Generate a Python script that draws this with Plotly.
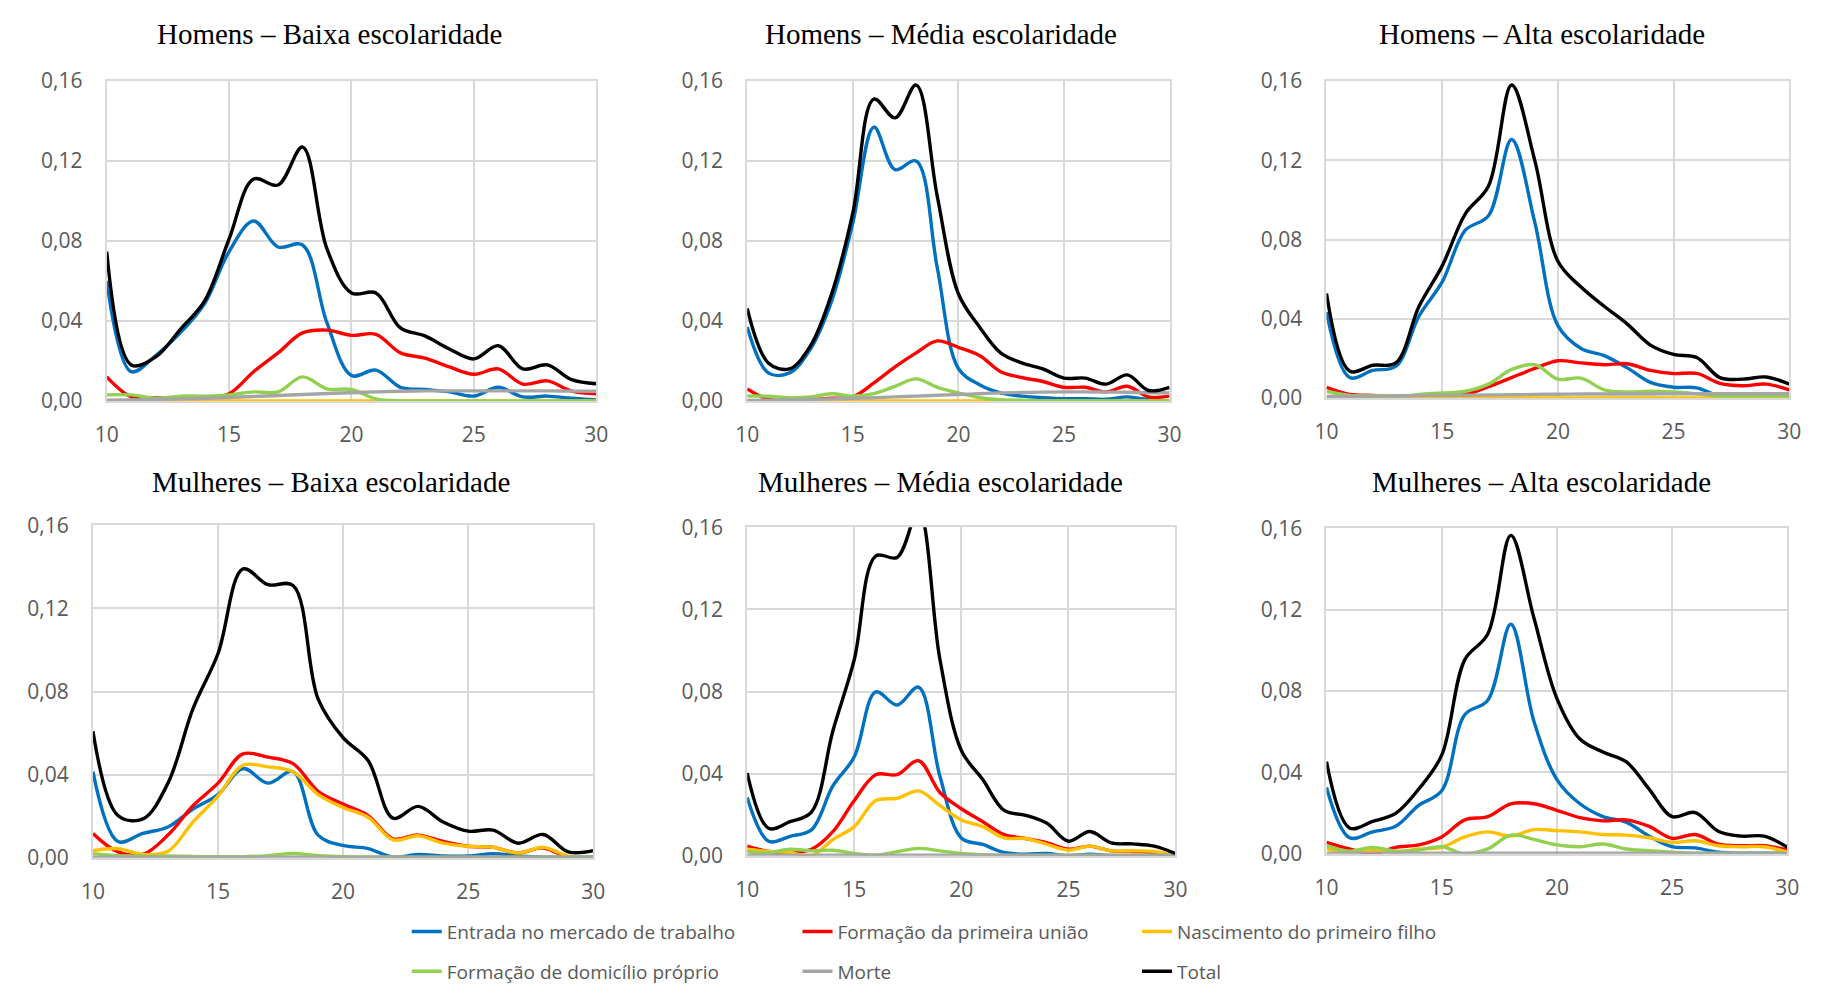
import plotly.graph_objects as go

# ---------------- DATA ----------------
ages = list(range(10, 31))
x_ticks = [10, 15, 20, 25, 30]
y_ticks = [0.0, 0.04, 0.08, 0.12, 0.16]

series_names = [
    "Entrada no mercado de trabalho",
    "Formação da primeira união",
    "Nascimento do primeiro filho",
    "Formação de domicílio próprio",
    "Morte",
    "Total",
]
series_colors = ["#0070C0", "#FF0000", "#FFC000", "#92D050", "#A5A5A5", "#000000"]

panel_titles = [
    "Homens – Baixa escolaridade",
    "Homens – Média escolaridade",
    "Homens – Alta escolaridade",
    "Mulheres – Baixa escolaridade",
    "Mulheres – Média escolaridade",
    "Mulheres – Alta escolaridade",
]

# Homens – Baixa
hb_entrada = [0.060, 0.0146, 0.0227, 0.034, 0.0487, 0.0747, 0.090, 0.077, 0.078, 0.039, 0.0127,
              0.0154, 0.0068, 0.0057, 0.0045, 0.0024, 0.0068, 0.002, 0.0024, 0.0013, 0.0005]
hb_uniao = [0.012, 0.002, 0.0016, 0.001, 0.0016, 0.0036, 0.0146, 0.024, 0.034, 0.0354, 0.0328,
            0.0333, 0.024, 0.0214, 0.017, 0.0133, 0.016, 0.0084, 0.010, 0.0049, 0.0036]
hb_filho = [0.0] * 21
hb_domicilio = [0.003, 0.003, 0.0013, 0.0024, 0.0024, 0.003, 0.0045, 0.0045, 0.012, 0.006, 0.0057,
                0.001, 0.0, 0.0, 0.0, 0.0, 0.0, 0.0, 0.0, 0.0, 0.0]
hb_morte = [0.0003, 0.0005, 0.0008, 0.001, 0.0013, 0.0017, 0.0022, 0.0027, 0.0032, 0.0037, 0.0041,
            0.0045, 0.0048, 0.005, 0.005, 0.005, 0.005, 0.005, 0.005, 0.0049, 0.0048]
hb_total = [0.0747, 0.018, 0.022, 0.0357, 0.050, 0.081, 0.111, 0.108, 0.127, 0.076, 0.054,
            0.054, 0.0365, 0.0325, 0.026, 0.021, 0.0276, 0.016, 0.018, 0.0106, 0.0086]

# Homens – Média
hm_entrada = [0.037, 0.014, 0.014, 0.026, 0.050, 0.089, 0.137, 0.1157, 0.120, 0.0666, 0.0162,
              0.0081, 0.004, 0.0024, 0.0016, 0.0011, 0.0011, 0.0008, 0.002, 0.0006, 0.0]
hm_uniao = [0.006, 0.0008, 0.0003, 0.0006, 0.0013, 0.002, 0.009, 0.017, 0.024, 0.030, 0.0268,
            0.0227, 0.0146, 0.0117, 0.0097, 0.0068, 0.0068, 0.0045, 0.0073, 0.002, 0.0024]
hm_filho = [0.0] * 21
hm_domicilio = [0.0024, 0.0023, 0.0016, 0.002, 0.0036, 0.0024, 0.0036, 0.0073, 0.011, 0.0068, 0.004,
                0.0016, 0.0006, 0.0003, 0.0, 0.0, 0.0, 0.0, 0.0, 0.0, 0.0]
hm_morte = [0.0002, 0.0004, 0.0006, 0.0008, 0.001, 0.0013, 0.0016, 0.002, 0.0024, 0.0028, 0.0032,
            0.0036, 0.004, 0.0042, 0.0044, 0.0045, 0.0045, 0.0044, 0.0043, 0.0041, 0.004]
hm_total = [0.0463, 0.019, 0.016, 0.0276, 0.0536, 0.094, 0.151, 0.1416, 0.158, 0.1023, 0.0536,
            0.037, 0.024, 0.019, 0.016, 0.0114, 0.0114, 0.0084, 0.013, 0.0052, 0.0068]

# Homens – Alta
ha_entrada = [0.0434, 0.0103, 0.0139, 0.016, 0.0414, 0.0586, 0.0847, 0.092, 0.1305, 0.0888, 0.0365,
              0.025, 0.0214, 0.0152, 0.0079, 0.0054, 0.0051, 0.0008, 0.0005, 0.0005, 0.0005]
ha_uniao = [0.0054, 0.0018, 0.0013, 0.0005, 0.0008, 0.0013, 0.0018, 0.0057, 0.0103, 0.0149, 0.0188,
            0.0177, 0.0168, 0.0173, 0.0139, 0.0123, 0.0124, 0.0074, 0.0062, 0.007, 0.0041]
ha_filho = [0.0] * 21
ha_domicilio = [0.0034, 0.0013, 0.0013, 0.0005, 0.0018, 0.0025, 0.0034, 0.007, 0.0144, 0.0168, 0.0095,
                0.010, 0.0041, 0.003, 0.0034, 0.003, 0.0021, 0.001, 0.001, 0.001, 0.001]
ha_morte = [0.0008, 0.0009, 0.001, 0.0011, 0.0012, 0.0013, 0.0014, 0.0015, 0.0016, 0.0018, 0.0019,
            0.002, 0.002, 0.002, 0.002, 0.0021, 0.0021, 0.0021, 0.0021, 0.0021, 0.0021]
ha_total = [0.0528, 0.0136, 0.0165, 0.0177, 0.0463, 0.0667, 0.093, 0.107, 0.158, 0.120, 0.069,
            0.056, 0.0463, 0.0373, 0.0267, 0.022, 0.0204, 0.0103, 0.0095, 0.0106, 0.007]

# Mulheres – Baixa
mb_entrada = [0.0414, 0.0078, 0.0117, 0.0148, 0.0234, 0.0304, 0.0429, 0.0359, 0.0414, 0.0109, 0.0059,
              0.0044, 0.0003, 0.0016, 0.0008, 0.0008, 0.0019, 0.0009, 0.0003, 0.0003, 0.0003]
mb_uniao = [0.0117, 0.0028, 0.0016, 0.0109, 0.025, 0.0359, 0.050, 0.0484, 0.0453, 0.032, 0.0258,
            0.0203, 0.0091, 0.0109, 0.0078, 0.0055, 0.005, 0.0023, 0.0047, 0.0003, 0.0]
mb_filho = [0.0034, 0.0044, 0.0016, 0.0031, 0.0172, 0.0297, 0.0445, 0.0437, 0.0414, 0.0304, 0.0242,
            0.0195, 0.0086, 0.0106, 0.007, 0.0055, 0.005, 0.0023, 0.005, 0.0008, 0.0]
mb_domicilio = [0.002, 0.001, 0.0008, 0.0008, 0.0006, 0.0005, 0.0005, 0.001, 0.002, 0.001, 0.0005,
                0.0004, 0.0003, 0.0003, 0.0003, 0.0003, 0.0003, 0.0003, 0.0003, 0.0003, 0.0003]
mb_morte = [0.0003] * 21
mb_total = [0.0609, 0.0203, 0.0187, 0.0359, 0.0718, 0.0983, 0.139, 0.1314, 0.131, 0.0765, 0.0578,
            0.0468, 0.019, 0.0247, 0.0172, 0.0128, 0.0133, 0.007, 0.0112, 0.0028, 0.0034]

# Mulheres – Média
mm_entrada = [0.0284, 0.0071, 0.0095, 0.0126, 0.034, 0.0482, 0.0798, 0.0734, 0.0821, 0.0387, 0.0087,
              0.0055, 0.0016, 0.0008, 0.0011, 0.0, 0.0008, 0.0, 0.0, 0.0, 0.0]
mm_uniao = [0.0047, 0.0021, 0.0016, 0.0032, 0.0118, 0.0269, 0.0395, 0.0395, 0.0463, 0.0308, 0.0229,
            0.0166, 0.0103, 0.0084, 0.0063, 0.0032, 0.0047, 0.0024, 0.0021, 0.0016, 0.0]
mm_filho = [0.0032, 0.0021, 0.0016, 0.0, 0.0079, 0.0142, 0.0269, 0.028, 0.0316, 0.0245, 0.0174,
            0.0142, 0.0087, 0.0084, 0.0055, 0.0027, 0.0047, 0.0024, 0.0024, 0.0021, 0.0]
mm_domicilio = [0.002, 0.0016, 0.0032, 0.0024, 0.0027, 0.0011, 0.0003, 0.002, 0.0036, 0.0024, 0.0011,
                0.0005, 0.0002, 0.0002, 0.0002, 0.0002, 0.0002, 0.0002, 0.0002, 0.0002, 0.0002]
mm_morte = [0.0003] * 21
mm_total = [0.0403, 0.0134, 0.0166, 0.0213, 0.0608, 0.0956, 0.146, 0.1453, 0.168, 0.0956, 0.0513,
            0.0371, 0.0221, 0.0197, 0.0158, 0.0071, 0.0118, 0.0063, 0.0058, 0.0047, 0.0011]

# Mulheres – Alta
ma_entrada = [0.0326, 0.0079, 0.0108, 0.0135, 0.0238, 0.031, 0.0683, 0.0755, 0.1128, 0.0652, 0.0365,
              0.0246, 0.0183, 0.0156, 0.0087, 0.0035, 0.0029, 0.0008, 0.0003, 0.0003, 0.0003]
ma_uniao = [0.0056, 0.0024, 0.0, 0.0032, 0.0044, 0.0083, 0.0167, 0.0183, 0.0246, 0.0246, 0.0214,
            0.0178, 0.0162, 0.0167, 0.0135, 0.0076, 0.0095, 0.0048, 0.004, 0.004, 0.0019]
ma_filho = [0.0024, 0.0008, 0.0019, 0.0008, 0.0024, 0.0032, 0.0083, 0.0108, 0.0087, 0.0119, 0.0114,
            0.0108, 0.0095, 0.0092, 0.0079, 0.0056, 0.0064, 0.004, 0.0035, 0.0035, 0.0008]
ma_domicilio = [0.004, 0.0013, 0.0032, 0.0013, 0.0019, 0.0035, 0.0, 0.0024, 0.0092, 0.0071, 0.0044,
                0.0035, 0.0048, 0.0024, 0.0016, 0.0008, 0.0002, 0.0002, 0.0002, 0.0002, 0.0002]
ma_morte = [0.0003] * 21
ma_total = [0.0453, 0.0127, 0.0159, 0.0199, 0.0318, 0.0485, 0.0953, 0.108, 0.1565, 0.116, 0.0763,
            0.0564, 0.050, 0.0453, 0.0318, 0.0183, 0.0203, 0.0111, 0.0087, 0.0087, 0.0032]

panels = [
    [hb_entrada, hb_uniao, hb_filho, hb_domicilio, hb_morte, hb_total],
    [hm_entrada, hm_uniao, hm_filho, hm_domicilio, hm_morte, hm_total],
    [ha_entrada, ha_uniao, ha_filho, ha_domicilio, ha_morte, ha_total],
    [mb_entrada, mb_uniao, mb_filho, mb_domicilio, mb_morte, mb_total],
    [mm_entrada, mm_uniao, mm_filho, mm_domicilio, mm_morte, mm_total],
    [ma_entrada, ma_uniao, ma_filho, ma_domicilio, ma_morte, ma_total],
]

# ---------------- LAYOUT (pixels) ----------------
W, H = 1825, 1000
# (left, right, top, bottom) of each plot area
boxes = [
    (96, 592, 68, 397),
    (745, 1173, 68, 397),
    (1332, 1801, 68, 394),
    (82, 589, 525, 867),
    (745, 1179, 527, 865),
    (1332, 1799, 528, 863),
]
title_pos = [(322, 20), (941, 20), (1550, 20), (323, 480), (941, 480), (1550, 480)]

# legend item text start x, center y
legend_pos = [(446, 943), (842, 943), (1186, 943), (446, 984), (842, 984), (1186, 984)]

tick_font = dict(family="Open Sans, sans-serif", size=21, color="#595959")
legend_font = dict(family="Open Sans, sans-serif", size=19, color="#595959")
grid_color = "#D9D9D9"

fig = go.Figure()
legend_ids = ["legend", "legend2", "legend3", "legend4", "legend5", "legend6"]

for p, (data, box) in enumerate(zip(panels, boxes)):
    suffix = "" if p == 0 else str(p + 1)
    for s, vals in enumerate(data):
        fig.add_trace(go.Scatter(
            x=ages, y=vals, mode="lines",
            name=series_names[s],
            line=dict(color=series_colors[s], width=3.4, shape="spline", smoothing=1.0),
            xaxis="x" + suffix, yaxis="y" + suffix,
            showlegend=(p == 0),
            legend=legend_ids[s],
            legendgroup=series_names[s],
            hoverinfo="skip",
        ))
    l, r, t, b = box
    fig.layout["xaxis" + suffix] = dict(
        domain=[l / W, r / W], anchor="y" + suffix, range=[10, 30],
        tickvals=x_ticks, showgrid=True, gridcolor=grid_color, gridwidth=2,
        showline=True, linecolor=grid_color, linewidth=2, mirror=True,
        zeroline=False, tickfont=tick_font, ticklabelstandoff=14, fixedrange=True,
    )
    fig.layout["yaxis" + suffix] = dict(
        domain=[1 - b / H, 1 - t / H], anchor="x" + suffix, range=[0, 0.16],
        tickvals=y_ticks, tickformat=".2f", showgrid=True, gridcolor=grid_color, gridwidth=2,
        showline=True, linecolor=grid_color, linewidth=2, mirror=True,
        zeroline=False, tickfont=tick_font, ticklabelstandoff=18, fixedrange=True,
    )
    tx, ty = title_pos[p]
    fig.add_annotation(
        x=tx / W, y=1 - ty / H, xref="paper", yref="paper", text=panel_titles[p],
        showarrow=False, xanchor="center", yanchor="middle",
        font=dict(family="Liberation Serif, Times New Roman, serif", size=29, color="#000000"),
    )

layout_legends = {}
for i, lid in enumerate(legend_ids):
    lx, ly = legend_pos[i]
    layout_legends[lid] = dict(
        x=(lx - 46) / W, y=1 - ly / H, xanchor="left", yanchor="middle",
        orientation="h", bgcolor="rgba(0,0,0,0)", font=legend_font,
        itemwidth=30, borderwidth=0,
    )

fig.update_layout(
    width=W, height=H,
    margin=dict(l=0, r=0, t=0, b=0),
    paper_bgcolor="white", plot_bgcolor="white",
    separators=",.",
    **layout_legends,
)

fig.write_html("out.html")
